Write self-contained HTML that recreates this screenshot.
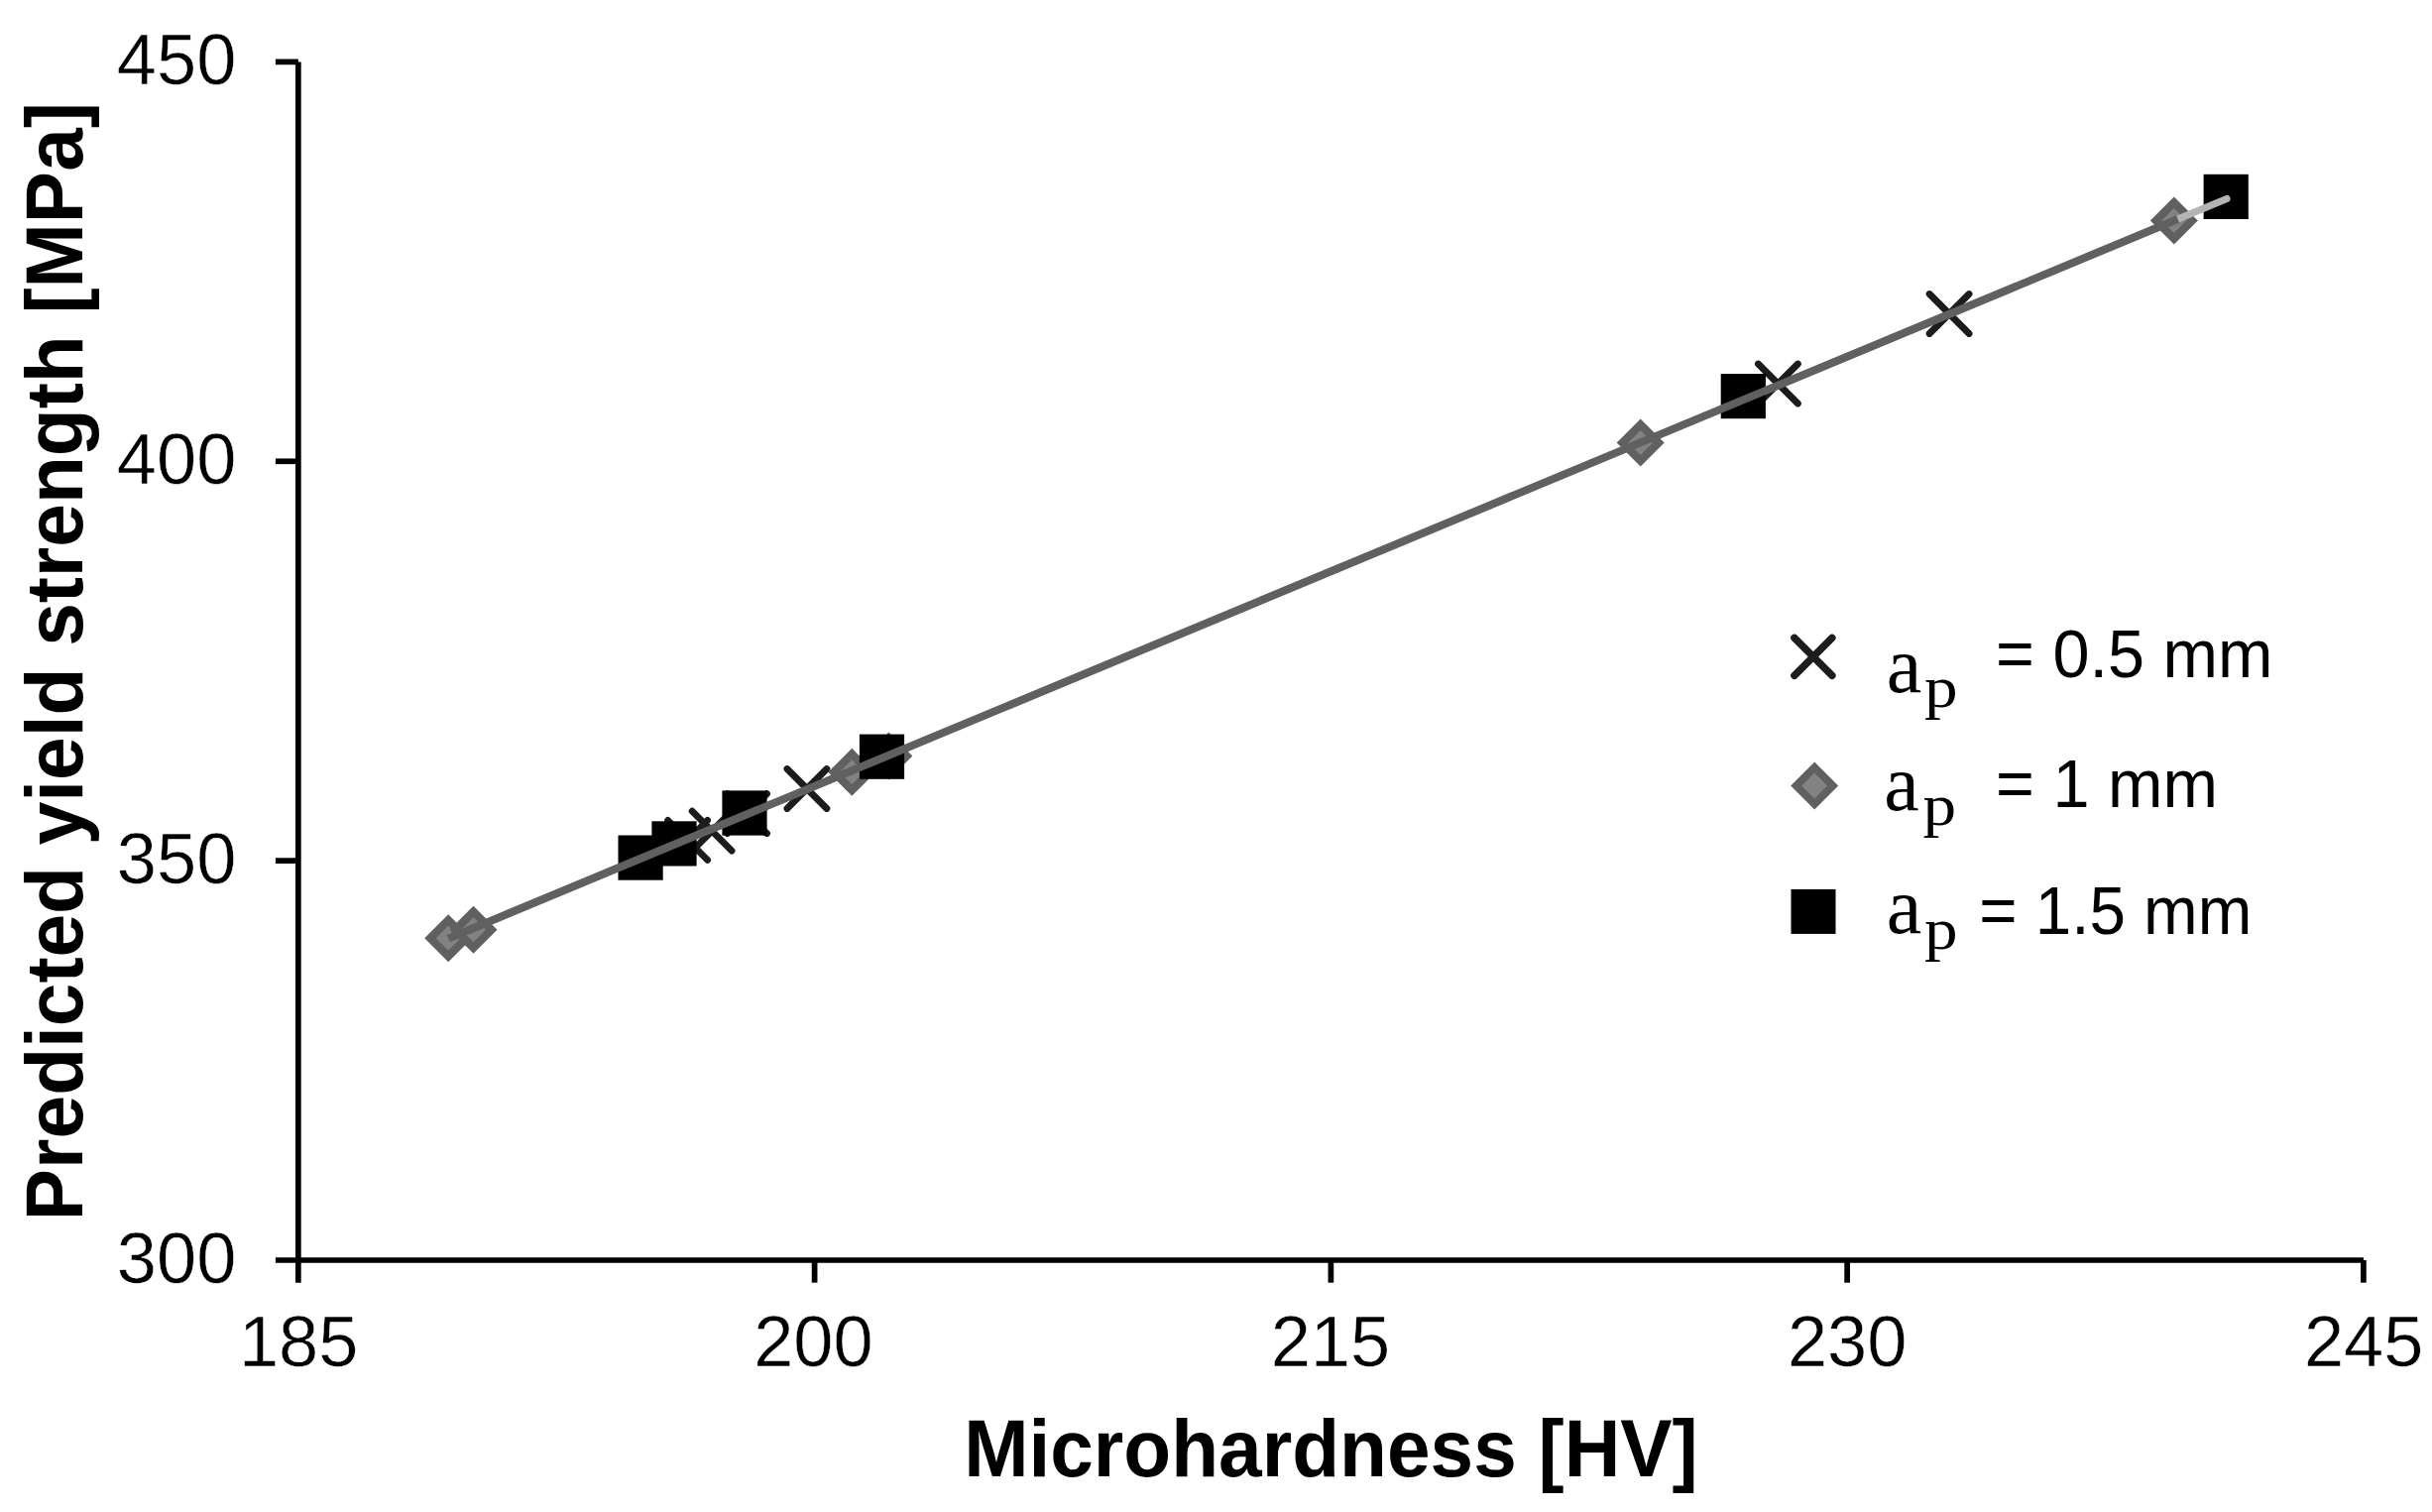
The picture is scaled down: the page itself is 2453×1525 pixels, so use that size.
<!DOCTYPE html>
<html lang="en"><head><meta charset="utf-8"><title>Predicted yield strength vs Microhardness</title>
<style>html,body{margin:0;padding:0;background:#fff}body{width:2453px;height:1525px;overflow:hidden}svg{display:block}text{font-family:"Liberation Sans",Arial,sans-serif;fill:#000}.tick{font-size:72.2px;stroke:#fff;stroke-width:0.5px}.ttl{font-size:78.4px;font-weight:bold}.leg{font-size:66.6px}.ser{font-family:"Liberation Serif","Times New Roman",serif}</style></head><body>
<svg width="2453" height="1525" viewBox="0 0 2453 1525">
<rect width="2453" height="1525" fill="#fff"/>
<g stroke="#000" stroke-width="5.7" fill="none" stroke-linecap="butt">
<line x1="300.85" y1="62.40" x2="300.85" y2="1293.70"/>
<line x1="277.90" y1="1271.00" x2="2383.90" y2="1271.00"/>
<line x1="277.9" y1="868.13" x2="300.85" y2="868.13"/>
<line x1="277.9" y1="465.27" x2="300.85" y2="465.27"/>
<line x1="277.9" y1="62.40" x2="300.85" y2="62.40"/>
<line x1="821.61" y1="1271.00" x2="821.61" y2="1293.7"/>
<line x1="1342.38" y1="1271.00" x2="1342.38" y2="1293.7"/>
<line x1="1863.14" y1="1271.00" x2="1863.14" y2="1293.7"/>
<line x1="2383.90" y1="1271.00" x2="2383.90" y2="1293.7"/>
</g>
<text class="tick" text-anchor="end" x="238.3" y="1293.50">300</text>
<text class="tick" text-anchor="end" x="238.3" y="890.63">350</text>
<text class="tick" text-anchor="end" x="238.3" y="487.77">400</text>
<text class="tick" text-anchor="end" x="238.3" y="84.90">450</text>
<text class="tick" text-anchor="middle" x="301.15" y="1378.4">185</text>
<text class="tick" text-anchor="middle" x="820.41" y="1378.4">200</text>
<text class="tick" text-anchor="middle" x="1341.88" y="1378.4">215</text>
<text class="tick" text-anchor="middle" x="1863.14" y="1378.4">230</text>
<text class="tick" text-anchor="middle" x="2384.20" y="1378.4">245</text>
<text class="ttl" text-anchor="middle" transform="translate(1342.4 1489.4) scale(1 1.04)">Microhardness [HV]</text>
<text class="ttl" text-anchor="middle" transform="translate(82.7 667.2) rotate(-90) scale(1 1.04)">Predicted yield strength [MPa]</text>
<g>
<path d="M698.1 818.1L738.1 858.1M698.1 858.1L738.1 818.1" stroke="#1c1c1c" stroke-width="6.8" stroke-linecap="round" fill="none"/>
<path d="M673.6 827.3L713.6 867.3M673.6 867.3L713.6 827.3" stroke="#1c1c1c" stroke-width="6.8" stroke-linecap="round" fill="none"/>
<path d="M793.9 775.5L833.9 815.5M793.9 815.5L833.9 775.5" stroke="#1c1c1c" stroke-width="6.8" stroke-linecap="round" fill="none"/>
<path d="M733.6 800.6L773.6 840.6M733.6 840.6L773.6 800.6" stroke="#1c1c1c" stroke-width="6.8" stroke-linecap="round" fill="none"/>
<path d="M1773.4 367.0L1813.4 407.0M1773.4 407.0L1813.4 367.0" stroke="#1c1c1c" stroke-width="6.8" stroke-linecap="round" fill="none"/>
<path d="M1946.1 296.5L1986.1 336.5M1946.1 336.5L1986.1 296.5" stroke="#1c1c1c" stroke-width="6.8" stroke-linecap="round" fill="none"/>
<polygon points="452.2,922.2 476.2,946.2 452.2,970.2 428.2,946.2" fill="#606060"/><polygon points="452.2,933.7 464.7,946.2 452.2,958.7 439.7,946.2" fill="#828282"/>
<polygon points="477.5,913.7 501.5,937.7 477.5,961.7 453.5,937.7" fill="#606060"/><polygon points="477.5,925.2 490.0,937.7 477.5,950.2 465.0,937.7" fill="#828282"/>
<polygon points="859.3,754.8 883.3,778.8 859.3,802.8 835.3,778.8" fill="#606060"/><polygon points="859.3,766.3 871.8,778.8 859.3,791.3 846.8,778.8" fill="#828282"/>
<polygon points="896.4,738.4 920.4,762.4 896.4,786.4 872.4,762.4" fill="#606060"/><polygon points="896.4,749.9 908.9,762.4 896.4,774.9 883.9,762.4" fill="#828282"/>
<polygon points="1654.7,422.6 1678.7,446.6 1654.7,470.6 1630.7,446.6" fill="#606060"/><polygon points="1654.7,434.1 1667.2,446.6 1654.7,459.1 1642.2,446.6" fill="#828282"/>
<polygon points="2192.8,198.6 2216.8,222.6 2192.8,246.6 2168.8,222.6" fill="#606060"/><polygon points="2192.8,210.1 2205.3,222.6 2192.8,235.1 2180.3,222.6" fill="#828282"/>
<rect x="623.5" y="842.5" width="45.2" height="45.2" fill="#000"/>
<rect x="657.4" y="828.3" width="45.2" height="45.2" fill="#000"/>
<rect x="728.4" y="797.4" width="45.2" height="45.2" fill="#000"/>
<rect x="866.9" y="740.6" width="45.2" height="45.2" fill="#000"/>
<rect x="1735.7" y="377.0" width="45.2" height="45.2" fill="#000"/>
<rect x="2222.6" y="175.8" width="45.2" height="45.2" fill="#000"/>
</g>
<line x1="2192.8" y1="222.6" x2="2246.0" y2="200.5" stroke="#b4b4b4" stroke-width="7.2" stroke-linecap="round"/>
<line x1="452.2" y1="946.6" x2="2196.6" y2="221.0" stroke="#606060" stroke-width="8.0" stroke-linecap="butt"/>
<path d="M1809.9 643.3L1847.9 681.3M1809.9 681.3L1847.9 643.3" stroke="#1c1c1c" stroke-width="7.4" stroke-linecap="round" fill="none"/>
<polygon points="1830.2,768.5 1854.2,792.5 1830.2,816.5 1806.2,792.5" fill="#606060"/><polygon points="1830.2,779.5 1843.2,792.5 1830.2,805.5 1817.2,792.5" fill="#828282"/>
<rect x="1806.5" y="896.9" width="45.0" height="45.0" fill="#000"/>
<text class="ser" font-size="80" x="1902.8" y="698.3">a</text>
<text class="ser" font-size="60" transform="translate(1941.0 713.4) scale(1.12 1)">p</text>
<text class="leg" transform="translate(2013.0 683.2) scale(1.0000 1.035)">= 0.5 mm</text>
<text class="ser" font-size="80" x="1900.3" y="817.0">a</text>
<text class="ser" font-size="60" transform="translate(1939.6 832.1) scale(1.12 1)">p</text>
<text class="leg" transform="translate(2013.0 814.2) scale(1.0000 1.035)">= 1 mm</text>
<text class="ser" font-size="80" x="1902.8" y="940.5">a</text>
<text class="ser" font-size="60" transform="translate(1941.0 956.9) scale(1.12 1)">p</text>
<text class="leg" transform="translate(1996.2 942.2) scale(0.9850 1.035)">= 1.5 mm</text>
</svg></body></html>
